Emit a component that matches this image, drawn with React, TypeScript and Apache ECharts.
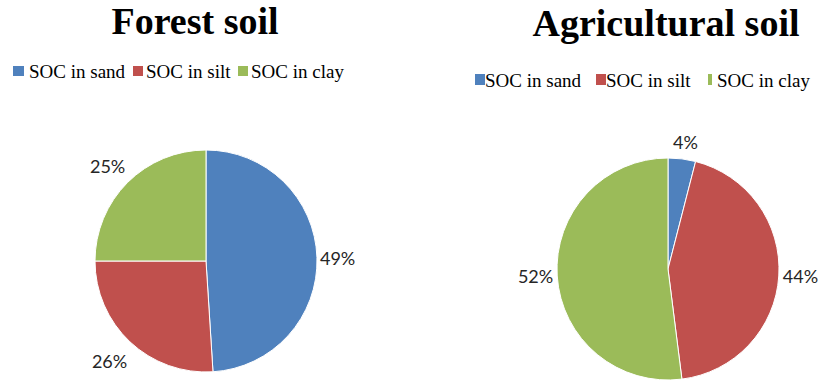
import React, { useEffect, useRef } from "react";
import * as echarts from "echarts";

const categories = ["SOC in sand", "SOC in silt", "SOC in clay"];
const forestValues = [49, 26, 25];
const agriValues = [4, 44, 52];
const titles = ["Forest soil", "Agricultural soil"];
const sliceColors = ["#4F81BD", "#C0504D", "#9BBB59"];

// label line tuning per slice: [length, length2, distanceToLabelLine]
const forestLabelTune = [
  [0, 0, 3],
  [26, 0, -15],
  [23, 0, -14],
];
const agriLabelTune = [
  [17, 0, -11],
  [0, 0, 4],
  [0, 0, 4],
];

// legend layout: icon x, icon width, icon height, text x per item; row y (text middle), icon top
const forestLegendLayout = {
  iconX: [13, 133, 238],
  iconW: [11, 10, 10],
  iconH: 10,
  iconTop: 66,
  textX: [29, 146, 251],
  textY: 71,
};
const agriLegendLayout = {
  iconX: [475, 596, 708],
  iconW: [10, 10, 4],
  iconH: 11,
  iconTop: 74,
  textX: [485, 606, 717],
  textY: 80,
};

function buildData(values: number[], tune: number[][]) {
  return values.map((v, i) => ({
    name: categories[i],
    value: v,
    label: { distanceToLabelLine: tune[i][2] },
    labelLine: { show: false, length: tune[i][0], length2: tune[i][1] },
  }));
}

function buildLegend(layout: typeof forestLegendLayout) {
  const children: any[] = [];
  categories.forEach((name, i) => {
    children.push({
      type: "rect",
      shape: { x: layout.iconX[i], y: layout.iconTop, width: layout.iconW[i], height: layout.iconH },
      style: { fill: sliceColors[i] },
      silent: true,
    });
    children.push({
      type: "text",
      x: layout.textX[i],
      y: layout.textY,
      style: {
        text: name,
        fill: "#000",
        font: "normal 19px 'Liberation Serif', 'Times New Roman', serif",
        verticalAlign: "middle",
        align: "left",
      },
      silent: true,
    });
  });
  return { type: "group", children };
}

export default function App() {
  const ref = useRef<HTMLDivElement>(null);
  useEffect(() => {
    document.body.style.margin = "0";
    if (!ref.current) return;
    const chart = echarts.init(ref.current, undefined, { renderer: "svg" });
    const labelStyle = {
      show: true,
      position: "outside" as const,
      formatter: "{c}%",
      fontFamily: "Lato",
      fontSize: 18,
      color: "#262626",
    };
    chart.setOption({
      animation: false,
      backgroundColor: "#fff",
      color: sliceColors,
      title: [
        {
          text: titles[0],
          left: 195,
          top: 2,
          padding: 0,
          textAlign: "center",
          textStyle: { fontFamily: "Liberation Serif", fontWeight: "bold", fontSize: 38, color: "#000" },
        },
        {
          text: titles[1],
          left: 666,
          top: 4,
          padding: 0,
          textAlign: "center",
          textStyle: { fontFamily: "Liberation Serif", fontWeight: "bold", fontSize: 38, color: "#000" },
        },
      ],
      graphic: [buildLegend(forestLegendLayout), buildLegend(agriLegendLayout)],
      series: [
        {
          type: "pie",
          center: [206, 261],
          radius: 111,
          startAngle: 90,
          clockwise: true,
          avoidLabelOverlap: false,
          itemStyle: { borderColor: "#fff", borderWidth: 1 },
          label: labelStyle,
          emphasis: { disabled: true },
          data: buildData(forestValues, forestLabelTune),
        },
        {
          type: "pie",
          center: [668, 269],
          radius: 111,
          startAngle: 90,
          clockwise: true,
          avoidLabelOverlap: false,
          itemStyle: { borderColor: "#fff", borderWidth: 1 },
          label: labelStyle,
          emphasis: { disabled: true },
          data: buildData(agriValues, agriLabelTune),
        },
      ],
    });
    return () => chart.dispose();
  }, []);
  return <div ref={ref} style={{ width: 818, height: 380 }} />;
}
